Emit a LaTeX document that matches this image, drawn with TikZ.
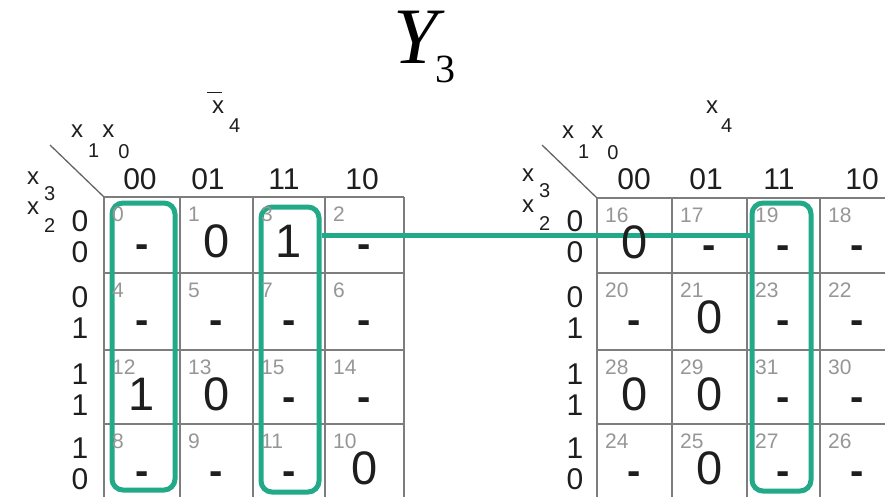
\documentclass[tikz,border=0pt]{standalone}
\usepackage{fontspec}
\setmainfont{Liberation Sans}
\newfontfamily\titlefont{Liberation Serif}
\definecolor{loopgreen}{RGB}{34,170,136}
\definecolor{idxgray}{RGB}{150,150,150}
\definecolor{gridgray}{RGB}{125,125,125}
\definecolor{inkdark}{RGB}{30,30,30}
\newcommand\xsb[3]{x\hspace{#3}\raisebox{-#2}{\fontsize{20}{20}\selectfont #1}}
\begin{document}
\begin{tikzpicture}[x=1pt,y=-1pt,
  grid/.style={draw=gridgray, line width=1.8pt},
  diag/.style={draw=gridgray!80!black, line width=1.3pt},
  loop/.style={draw=loopgreen, line width=5pt, rounded corners=11pt, inner sep=0pt},
  link/.style={draw=loopgreen, line width=5pt},
  idx/.style={anchor=north west, inner sep=0pt, text=idxgray, font=\fontsize{21}{21}\selectfont},
  num/.style={anchor=base, inner sep=0pt, text=inkdark, font=\fontsize{47}{47}\selectfont},
  dsh/.style={anchor=base, inner sep=0pt, text=inkdark, font=\bfseries\fontsize{40}{40}\selectfont},
  hdr/.style={anchor=base, inner sep=0pt, text=inkdark, font=\fontsize{30}{30}\selectfont},
  var/.style={anchor=base west, inner sep=0pt, text=inkdark, font=\fontsize{24}{24}\selectfont}]
\useasboundingbox (0,0) rectangle (885,496);
\clip (0,0) rectangle (885,496);

% title
\node[anchor=base west, inner sep=0pt] (title) at (393,63)
  {\titlefont\fontsize{80}{80}\selectfont\itshape Y\upshape\hspace{-2pt}\raisebox{-19pt}{\fontsize{40}{40}\selectfont 3}};

% grids
\foreach \x in {104,180,253,325,404} \draw[grid] (\x,197) -- (\x,500);
\foreach \y in {197,273,350,424} \draw[grid] (104,\y) -- (404,\y);
\foreach \x in {597,672,747,820,895} \draw[grid] (\x,198) -- (\x,500);
\foreach \y in {198,273,350,424} \draw[grid] (597,\y) -- (900,\y);
\draw[diag] (50,145) -- (104,197);
\draw[diag] (542,145) -- (597,198);

% loops
\node[loop, minimum width=63pt, minimum height=287pt] (LA) at (143.5,346.5) {};
\node[loop, minimum width=58pt, minimum height=285pt] (LB) at (290,349.5) {};
\node[loop, minimum width=59pt, minimum height=288pt] (RB) at (781.5,347) {};
\coordinate (lvl) at (0,235);
\draw[link] (LB.east |- lvl) -- (RB.west |- lvl);

% variable labels left
\node[var] (Lx10) at (71,137) {\xsb{1}{20pt}{5pt}\hspace{3pt}\xsb{0}{21pt}{4pt}};
\node[var] (Lx3) at (27,184) {\xsb{3}{16pt}{5pt}};
\node[var] (Lx2) at (27,214) {\xsb{2}{18pt}{5pt}};
\node[var] (Lx4) at (212,113) {\rlap{\hspace{-5pt}\raisebox{20pt}{\rule{15pt}{1.3pt}}}\xsb{4}{19pt}{5pt}};
% variable labels right
\node[var] (Rx10) at (562,138) {\xsb{1}{20pt}{4pt}\hspace{2pt}\xsb{0}{21pt}{4pt}};
\node[var] (Rx3) at (522,181) {\xsb{3}{16pt}{5pt}};
\node[var] (Rx2) at (522,212) {\xsb{2}{18pt}{5pt}};
\node[var] (Rx4) at (706,113) {\xsb{4}{19pt}{3pt}};

% column headers
\foreach \x/\t/\n in {140/00/a,208/01/b,284/11/c,362/10/d}
  \node[hdr] (Lh\n) at (\x,189) {\t};
\foreach \x/\t/\n in {634/00/a,706/01/b,779/11/c,862/10/d}
  \node[hdr] (Rh\n) at (\x,189) {\t};

% row labels
\foreach \r/\a/\b in {0/0/0,1/0/1,2/1/1,3/1/0}{
  \pgfmathsetmacro\yt{{197,273,350,424}[\r]}
  \node[hdr] (Lr\r a) at (80,\yt+34) {\a};
  \node[hdr] (Lr\r b) at (80,\yt+65) {\b};
  \node[hdr] (Rr\r a) at (575,\yt+34) {\a};
  \node[hdr] (Rr\r b) at (575,\yt+65) {\b};
}

% left map cells
\foreach \r/\c/\i/\s/\v in {0/0/0/dsh/-,0/1/1/num/0,0/2/3/num/1,0/3/2/dsh/-,
  1/0/4/dsh/-,1/1/5/dsh/-,1/2/7/dsh/-,1/3/6/dsh/-,
  2/0/12/num/1,2/1/13/num/0,2/2/15/dsh/-,2/3/14/dsh/-,
  3/0/8/dsh/-,3/1/9/dsh/-,3/2/11/dsh/-,3/3/10/num/0}{
  \pgfmathsetmacro\xl{{104,180,253,325}[\c]}
  \pgfmathsetmacro\xc{{142,216.5,289,364.5}[\c]}
  \pgfmathsetmacro\yt{{197,273,350,424}[\r]}
  \node[idx] (L\i) at (\xl+8,\yt+10) {\i};
  \node[\s] (LV\i) at (\xc,\yt+60) {\v};
}

% right map cells
\foreach \r/\c/\i/\s/\v in {0/0/16/num/0,0/1/17/dsh/-,0/2/19/dsh/-,0/3/18/dsh/-,
  1/0/20/dsh/-,1/1/21/num/0,1/2/23/dsh/-,1/3/22/dsh/-,
  2/0/28/num/0,2/1/29/num/0,2/2/31/dsh/-,2/3/30/dsh/-,
  3/0/24/dsh/-,3/1/25/num/0,3/2/27/dsh/-,3/3/26/dsh/-}{
  \pgfmathsetmacro\xl{{597,672,747,820}[\c]}
  \pgfmathsetmacro\xc{{634.5,709.5,783.5,857.5}[\c]}
  \pgfmathsetmacro\yt{{198,273,350,424}[\r]}
  \node[idx] (R\i) at (\xl+8,\yt+10) {\i};
  \node[\s] (RV\i) at (\xc,\yt+60) {\v};
}
\end{tikzpicture}
\end{document}
